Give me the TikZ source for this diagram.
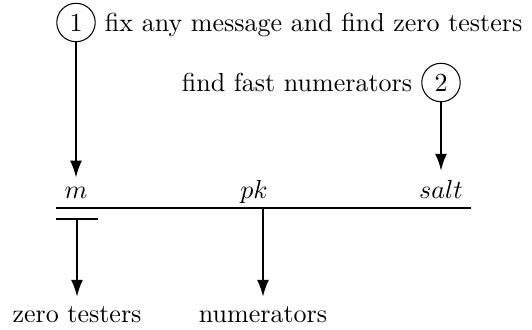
\documentclass[tikz,border=0pt]{standalone}
\usetikzlibrary{arrows.meta}
\begin{document}
\begin{tikzpicture}[x=0.3846pt,y=-0.3846pt,
  numcirc/.style={circle,draw,line width=0.4pt,inner sep=2.3pt},
  conn/.style={line width=0.8pt,-{Latex[length=6.5pt,width=4.6pt]}},
  rule/.style={line width=0.8pt},
  lbl/.style={anchor=base}]
\useasboundingbox (0,0) rectangle (532,329);
% step circles and texts
\node[numcirc] (c1) at (76,22.5) {1};
\node[anchor=base west] (t1) at (c1.east |- c1.base) {fix any message and find zero testers};
\node[numcirc] (c2) at (441,82.5) {2};
\node[anchor=base east] (t2) at (c2.west |- c2.base) {find fast numerators};
% labels over the line
\node[lbl] (m) at (76,198) {$m$};
\node[lbl] (pk) at (254,198) {$pk$};
\node[lbl] (salt) at (441,198) {$salt$};
% the line and bar
\coordinate (L) at (56,208);
\coordinate (R) at (471,208);
\coordinate (mid) at (263,208);
\coordinate (bl) at (56,219);
\coordinate (br) at (98,219);
\coordinate (bm) at (77,219);
\draw[rule] (L) -- (R);
\draw[rule] (bl) -- (br);
% outputs
\node[lbl] (zt) at (77,322) {zero testers};
\node[lbl] (num) at (263,322) {numerators};
% connectors
\draw[conn] (c1) -- (m);
\draw[conn] (c2) -- (salt);
\draw[conn] (bm) -- (zt);
\draw[conn] (mid) -- (num);
\end{tikzpicture}
\end{document}
